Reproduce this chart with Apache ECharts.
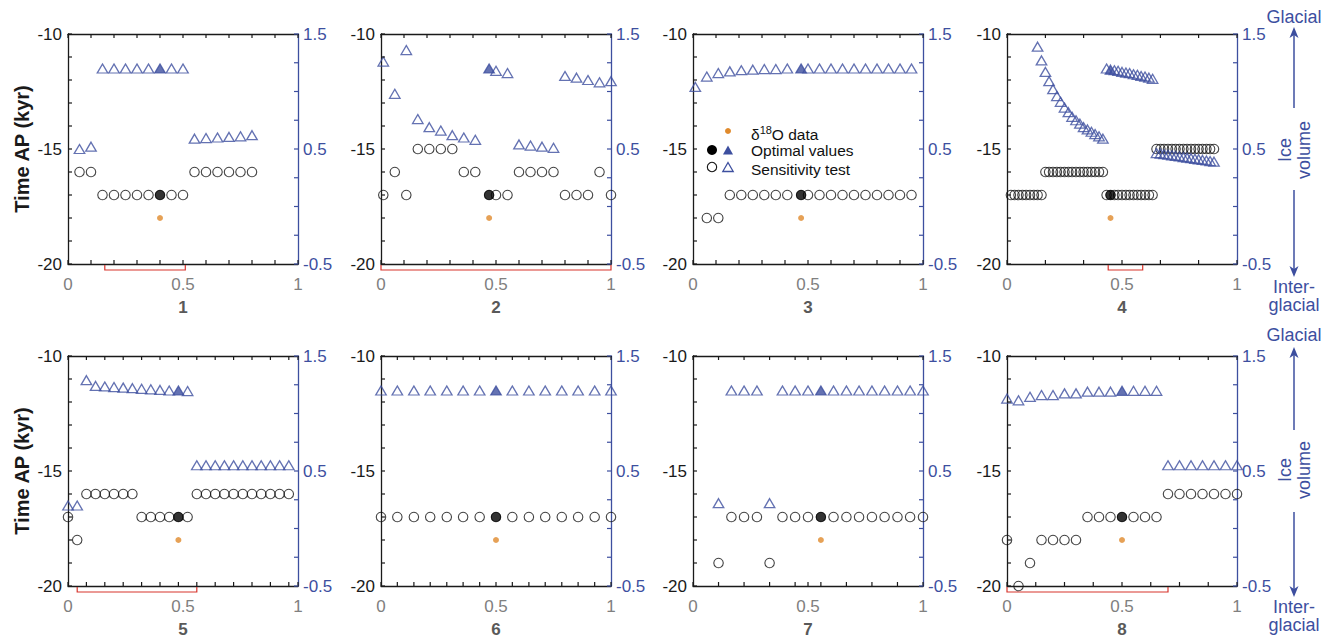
<!DOCTYPE html>
<html><head><meta charset="utf-8">
<script src="https://cdn.jsdelivr.net/npm/echarts@6/dist/echarts.min.js"></script>
<style>html,body{margin:0;padding:0;background:#fff}#c{width:1338px;height:640px}</style>
</head><body><div id="c"></div><script>
// ---------- DATA ----------
const x1 = [0.05,0.1,0.15,0.2,0.25,0.3,0.35,0.4,0.45,0.5,0.55,0.6,0.65,0.7,0.75,0.8];
const time1 = [-16,-16,-17,-17,-17,-17,-17,-17,-17,-17,-16,-16,-16,-16,-16,-16];
const ice1 = [0.50,0.52,1.2,1.2,1.2,1.2,1.2,1.2,1.2,1.2,0.59,0.595,0.60,0.605,0.61,0.62];
const opt1 = [0.4,-17,1.2];
const bracket1 = [0.16,0.51];
const ticks1 = [0,0.1,0.2,0.3,0.4,0.5,0.6,0.7,0.8,0.9,1];

const x2 = [0.01,0.06,0.11,0.16,0.21,0.26,0.31,0.36,0.41,0.47,0.5,0.55,0.6,0.65,0.7,0.75,0.8,0.85,0.9,0.95,1.0];
const time2 = [-17,-16,-17,-15,-15,-15,-15,-16,-16,-17,-17,-17,-16,-16,-16,-16,-17,-17,-17,-16,-17];
const ice2 = [1.26,0.98,1.36,0.76,0.69,0.66,0.62,0.60,0.58,1.20,1.18,1.16,0.54,0.53,0.52,0.51,1.135,1.12,1.10,1.08,1.09];
const opt2 = [0.47,-17,1.2];
const bracket2 = [0,1];
const ticks2 = [0,0.1,0.2,0.3,0.4,0.5,0.6,0.7,0.8,0.9,1];

const x3 = [0.01,0.06,0.11,0.16,0.21,0.26,0.31,0.36,0.41,0.47,0.5,0.55,0.6,0.65,0.7,0.75,0.8,0.85,0.9,0.95];
const time3 = [null,-18,-18,-17,-17,-17,-17,-17,-17,-17,-17,-17,-17,-17,-17,-17,-17,-17,-17,-17];
const ice3 = [1.04,1.13,1.16,1.175,1.185,1.19,1.195,1.195,1.2,1.2,1.2,1.2,1.2,1.2,1.2,1.2,1.2,1.2,1.2,1.2];
const opt3 = [0.47,-17,1.2];
const bracket3 = null;
const ticks3 = [0,0.1,0.2,0.3,0.4,0.5,0.6,0.7,0.8,0.9,1];

const x4 = [0.017,0.033,0.05,0.067,0.083,0.1,0.117,0.133,0.15,0.167,0.183,0.2,0.217,0.233,0.25,0.267,0.283,0.3,
  0.317,0.333,0.35,0.367,0.383,0.4,0.417,0.433,0.45,0.467,0.483,0.5,0.517,0.533,0.55,0.567,0.583,0.6,0.617,0.633,
  0.65,0.667,0.683,0.7,0.717,0.733,0.75,0.767,0.783,0.8,0.817,0.833,0.85,0.867,0.883,0.9];
const time4 = [-17,-17,-17,-17,-17,-17,-17,-17,-17,
  -16,-16,-16,-16,-16,-16,-16,-16,-16,-16,-16,-16,-16,-16,-16,-16,
  -17,-17,-17,-17,-17,-17,-17,-17,-17,-17,-17,-17,-17,
  -15,-15,-15,-15,-15,-15,-15,-15,-15,-15,-15,-15,-15,-15,-15,-15];
const ice4 = [null,null,null,null,null,null,null,
  1.39,1.27,1.17,1.09,1.02,0.96,0.91,0.86,0.82,0.78,0.75,0.72,0.69,0.67,0.65,0.63,0.61,0.59,
  1.20,1.19,1.185,1.18,1.17,1.165,1.16,1.15,1.145,1.135,1.13,1.12,1.11,
  0.465,0.46,0.455,0.45,0.445,0.44,0.435,0.43,0.425,0.42,0.415,0.41,0.405,0.40,0.395,0.39];
const opt4 = [0.45,-17,1.19];
const bracket4 = [0.44,0.59];
const ticks4 = [0,0.167,0.333,0.5,0.667,0.833,1];

const x5 = [0,0.04,0.08,0.12,0.16,0.2,0.24,0.28,0.32,0.36,0.4,0.44,0.48,0.52,0.56,0.6,0.64,0.68,0.72,0.76,0.8,0.84,0.88,0.92,0.96];
const time5 = [-17,-18,-16,-16,-16,-16,-16,-16,-17,-17,-17,-17,-17,-17,-16,-16,-16,-16,-16,-16,-16,-16,-16,-16,-16];
const ice5 = [0.2,0.2,1.29,1.24,1.235,1.23,1.225,1.22,1.215,1.21,1.205,1.2,1.2,1.195,0.55,0.55,0.55,0.55,0.55,0.55,0.55,0.55,0.55,0.55,0.55];
const opt5 = [0.48,-17,1.2];
const bracket5 = [0.04,0.56];
const ticks5 = [0,0.08,0.16,0.24,0.32,0.4,0.48,0.56,0.64,0.72,0.8,0.88,0.96,1];

const x6 = [0,0.071,0.143,0.214,0.286,0.357,0.429,0.5,0.571,0.643,0.714,0.786,0.857,0.929,1];
const time6 = [-17,-17,-17,-17,-17,-17,-17,-17,-17,-17,-17,-17,-17,-17,-17];
const ice6 = [1.2,1.2,1.2,1.2,1.2,1.2,1.2,1.2,1.2,1.2,1.2,1.2,1.2,1.2,1.2];
const opt6 = [0.5,-17,1.2];
const bracket6 = null;
const ticks6 = [0,0.071,0.143,0.214,0.286,0.357,0.429,0.5,0.571,0.643,0.714,0.786,0.857,0.929,1];

const x7 = [0.111,0.167,0.222,0.278,0.333,0.389,0.444,0.5,0.556,0.611,0.667,0.722,0.778,0.833,0.889,0.944,1];
const time7 = [-19,-17,-17,-17,-19,-17,-17,-17,-17,-17,-17,-17,-17,-17,-17,-17,-17];
const ice7 = [0.22,1.2,1.2,1.2,0.22,1.2,1.2,1.2,1.2,1.2,1.2,1.2,1.2,1.2,1.2,1.2,1.2];
const opt7 = [0.556,-17,1.2];
const bracket7 = null;
const ticks7 = [0,0.111,0.222,0.333,0.444,0.5,0.556,0.667,0.778,0.889,1];

const x8 = [0,0.05,0.1,0.15,0.2,0.25,0.3,0.35,0.4,0.45,0.5,0.55,0.6,0.65,0.7,0.75,0.8,0.85,0.9,0.95,1];
const time8 = [-18,-20,-19,-18,-18,-18,-18,-17,-17,-17,-17,-17,-17,-17,-16,-16,-16,-16,-16,-16,-16];
const ice8 = [1.13,1.115,1.145,1.16,1.16,1.175,1.175,1.19,1.19,1.19,1.197,1.197,1.197,1.197,0.55,0.55,0.55,0.55,0.55,0.55,0.55];
const opt8 = [0.5,-17,1.197];
const bracket8 = [0,0.7];
const ticks8 = [0,0.125,0.25,0.375,0.5,0.625,0.75,0.875,1];

const obsTime = -18;   // δ18O data point (kyr), at the optimal x of each panel
const panelLabels = ['1','2','3','4','5','6','7','8'];
const xLabels = [0,0.5,1];
const leftTicks = [-20,-19,-18,-17,-16,-15,-14,-13,-12,-11,-10];
const leftLabels = [-20,-15,-10];
const rightTicks = [-0.5,-0.25,0,0.25,0.5,0.75,1,1.25,1.5];
const rightLabels = [-0.5,0.5,1.5];

// ---------- STYLE / LAYOUT ----------
const FONT = '"Liberation Sans", Arial, Helvetica, sans-serif';
const BLUE = '#3d4f9f';
const ORANGE = '#e08a2c';
const RED = '#d8342c';
const AXC = '#1a1a1a';
const TL = 4; // tick length (px)
const lefts = [68, 381, 693, 1007];
const tops = [34, 356];
const W = 230, H = 230;

const panels = [
  {x:x1,t:time1,v:ice1,o:opt1,b:bracket1,k:ticks1},
  {x:x2,t:time2,v:ice2,o:opt2,b:bracket2,k:ticks2},
  {x:x3,t:time3,v:ice3,o:opt3,b:bracket3,k:ticks3},
  {x:x4,t:time4,v:ice4,o:opt4,b:bracket4,k:ticks4},
  {x:x5,t:time5,v:ice5,o:opt5,b:bracket5,k:ticks5},
  {x:x6,t:time6,v:ice6,o:opt6,b:bracket6,k:ticks6},
  {x:x7,t:time7,v:ice7,o:opt7,b:bracket7,k:ticks7},
  {x:x8,t:time8,v:ice8,o:opt8,b:bracket8,k:ticks8}
];

const grid = [], xAxis = [], yAxis = [], series = [];
const lbl = (vals, color, margin) => ({customValues: vals, showMinLabel: true, showMaxLabel: true, hideOverlap: false,
  color, fontSize: 17, fontFamily: FONT, margin});
const seg = (pts, stroke) => ({type: 'polyline', shape: {points: pts}, style: {stroke, fill: null, lineWidth: 1.2}});

panels.forEach((p, i) => {
  const col = i % 4, row = Math.floor(i / 4);
  grid.push({left: lefts[col], top: tops[row], width: W, height: H, containLabel: false});
  xAxis.push({
    gridIndex: i, type: 'value', min: 0, max: 1, position: 'bottom',
    axisLine: {show: true, onZero: false, lineStyle: {color: AXC, width: 1.3}},
    axisTick: {show: false},
    axisLabel: lbl(xLabels, '#808080', 12),
    splitLine: {show: false},
    name: panelLabels[i], nameLocation: 'middle', nameGap: 35,
    nameTextStyle: {fontWeight: 'bold', color: '#595959', fontSize: 17, fontFamily: FONT}
  });
  xAxis.push({
    gridIndex: i, type: 'value', min: 0, max: 1, position: 'top',
    axisLine: {show: true, onZero: false, lineStyle: {color: AXC, width: 1.3}},
    axisTick: {show: false}, axisLabel: {show: false}, splitLine: {show: false}
  });
  const yl = {
    gridIndex: i, type: 'value', min: -20, max: -10, interval: 5, position: 'left',
    axisLine: {show: true, onZero: false, lineStyle: {color: AXC, width: 1.3}},
    axisTick: {show: false},
    axisLabel: lbl(leftLabels, '#1a1a1a', 6),
    splitLine: {show: false}
  };
  if (col === 0) {
    yl.name = 'Time AP (kyr)'; yl.nameLocation = 'middle'; yl.nameGap = 36; yl.nameRotate = 90;
    yl.nameTextStyle = {fontWeight: 'bold', color: '#1a1a1a', fontSize: 20, fontFamily: FONT};
  }
  yAxis.push(yl);
  yAxis.push({
    gridIndex: i, type: 'value', min: -0.5, max: 1.5, interval: 1, position: 'right',
    axisLine: {show: true, onZero: false, lineStyle: {color: BLUE, width: 1.3}},
    axisTick: {show: false},
    axisLabel: lbl(rightLabels, BLUE, 5),
    splitLine: {show: false}
  });
  const xi = 2 * i, yL = 2 * i, yR = 2 * i + 1;

  // inward tick marks on all four sides, placed through the axes' scales
  series.push({type: 'custom', xAxisIndex: xi, yAxisIndex: yL, silent: true, animation: false, clip: false, z: 5,
    data: p.k.map(v => [v, -20, -10]), encode: {x: 0, y: [1, 2]},
    renderItem: (params, api) => {
      const b = api.coord([api.value(0), api.value(1)]), t = api.coord([api.value(0), api.value(2)]);
      return {type: 'group', children: [seg([[b[0], b[1]], [b[0], b[1] - TL]], AXC), seg([[t[0], t[1]], [t[0], t[1] + TL]], AXC)]};
    }});
  series.push({type: 'custom', xAxisIndex: xi, yAxisIndex: yL, silent: true, animation: false, clip: false, z: 5,
    data: leftTicks.map(v => [0, v]), encode: {x: 0, y: 1},
    renderItem: (params, api) => {
      const a = api.coord([api.value(0), api.value(1)]);
      return seg([[a[0], a[1]], [a[0] + TL, a[1]]], AXC);
    }});
  series.push({type: 'custom', xAxisIndex: xi, yAxisIndex: yR, silent: true, animation: false, clip: false, z: 5,
    data: rightTicks.map(v => [1, v]), encode: {x: 0, y: 1},
    renderItem: (params, api) => {
      const a = api.coord([api.value(0), api.value(1)]);
      return seg([[a[0], a[1]], [a[0] - TL, a[1]]], BLUE);
    }});

  const circ = [], tri = [];
  p.x.forEach((xv, j) => {
    if (p.t[j] != null) circ.push([xv, p.t[j]]);
    if (p.v[j] != null) tri.push([xv, p.v[j]]);
  });
  const common = {xAxisIndex: xi, silent: true, animation: false, clip: false};
  series.push(Object.assign({type: 'scatter', yAxisIndex: yL, data: circ, symbol: 'circle', symbolSize: 9.5,
    itemStyle: {color: 'rgba(0,0,0,0)', borderColor: '#111', borderWidth: 1.1}, z: 2}, common));
  series.push(Object.assign({type: 'scatter', yAxisIndex: yR, data: tri, symbol: 'triangle', symbolSize: [10.5, 9],
    itemStyle: {color: 'rgba(0,0,0,0)', borderColor: BLUE, borderWidth: 1.3}, z: 2}, common));
  series.push(Object.assign({type: 'scatter', yAxisIndex: yL, data: [[p.o[0], p.o[1]]], symbol: 'circle', symbolSize: 10,
    itemStyle: {color: '#000'}, z: 3}, common));
  series.push(Object.assign({type: 'scatter', yAxisIndex: yR, data: [[p.o[0], p.o[2]]], symbol: 'triangle', symbolSize: [10.5, 9],
    itemStyle: {color: BLUE}, z: 3}, common));
  series.push(Object.assign({type: 'scatter', yAxisIndex: yL, data: [[p.o[0], obsTime]], symbol: 'circle', symbolSize: 6,
    itemStyle: {color: ORANGE}, z: 3}, common));
  if (p.b) {
    series.push({
      type: 'custom', xAxisIndex: xi, yAxisIndex: yL, silent: true, animation: false, clip: false,
      data: [p.b], encode: {x: [0, 1]},
      renderItem: (params, api) => {
        const a = api.coord([api.value(0), -20]);
        const b = api.coord([api.value(1), -20]);
        return {type: 'polyline', shape: {points: [[a[0], a[1] + 1], [a[0], a[1] + 6], [b[0], b[1] + 6], [b[0], b[1] + 1]]},
          style: {stroke: RED, fill: null, lineWidth: 1.2}};
      }
    });
  }
});

// ---------- annotations ----------
const graphic = [];
const tx = (x, y, text) => ({type: 'text', x, y, silent: true, style: {text, fill: BLUE,
  font: '18px ' + FONT, align: 'center', verticalAlign: 'middle'}});
const arrowUp = (x, y0, tip) => [
  {type: 'line', shape: {x1: x, y1: y0, x2: x, y2: tip + 6}, style: {stroke: BLUE, lineWidth: 1.5}, silent: true},
  {type: 'polygon', shape: {points: [[x, tip], [x - 4.5, tip + 11], [x, tip + 8], [x + 4.5, tip + 11]]}, style: {fill: BLUE}, silent: true}
];
const arrowDown = (x, y0, tip) => [
  {type: 'line', shape: {x1: x, y1: y0, x2: x, y2: tip - 6}, style: {stroke: BLUE, lineWidth: 1.5}, silent: true},
  {type: 'polygon', shape: {points: [[x, tip], [x - 4.5, tip - 11], [x, tip - 8], [x + 4.5, tip - 11]]}, style: {fill: BLUE}, silent: true}
];
[[17, 108, 27, 150, 190, 277, 287, 305], [335, 430, 347, 470, 512, 597, 607, 625]].forEach(r => {
  const cx = 1294;
  graphic.push(tx(cx, r[0], 'Glacial'));
  graphic.push(...arrowUp(cx, r[1], r[2]));
  graphic.push({type: 'text', x: cx, y: r[3], rotation: Math.PI / 2, silent: true,
    style: {text: 'Ice\nvolume', fill: BLUE, font: '18px ' + FONT, align: 'center', verticalAlign: 'middle', lineHeight: 19}});
  graphic.push(...arrowDown(cx, r[4], r[5]));
  graphic.push(tx(cx, r[6], 'Inter-'));
  graphic.push(tx(cx, r[7], 'glacial'));
});

// legend (inside panel 3)
const lgX = 751;
graphic.push({type: 'circle', shape: {cx: 728, cy: 131, r: 3}, style: {fill: ORANGE}, silent: true});
graphic.push({type: 'circle', shape: {cx: 712, cy: 150, r: 5}, style: {fill: '#000'}, silent: true});
graphic.push({type: 'polygon', shape: {points: [[728, 145.5], [733, 154.5], [723, 154.5]]}, style: {fill: BLUE}, silent: true});
graphic.push({type: 'circle', shape: {cx: 712, cy: 167, r: 4.7}, style: {fill: null, stroke: '#111', lineWidth: 1.1}, silent: true});
graphic.push({type: 'polygon', shape: {points: [[728, 162.5], [733.2, 171.5], [722.8, 171.5]]}, style: {fill: null, stroke: BLUE, lineWidth: 1.3}, silent: true});
graphic.push({type: 'text', x: lgX, y: 133, silent: true, style: {
  text: '{a|δ}{s|18}{a|O data}', fill: '#111', align: 'left', verticalAlign: 'middle',
  rich: {a: {fontSize: 15.5, fontFamily: FONT, fill: '#111', lineHeight: 18, verticalAlign: 'bottom'},
         s: {fontSize: 11, fontFamily: FONT, fill: '#111', lineHeight: 18, verticalAlign: 'top'}}}});
graphic.push({type: 'text', x: lgX, y: 150, silent: true, style: {text: 'Optimal values', fill: '#111', font: '15.5px ' + FONT, align: 'left', verticalAlign: 'middle'}});
graphic.push({type: 'text', x: lgX, y: 169, silent: true, style: {text: 'Sensitivity test', fill: '#111', font: '15.5px ' + FONT, align: 'left', verticalAlign: 'middle'}});

const chart = echarts.init(document.getElementById('c'), null, {renderer: 'svg', width: 1338, height: 640});
chart.setOption({backgroundColor: '#fff', animation: false, grid, xAxis, yAxis, series, graphic});
</script></body></html>
